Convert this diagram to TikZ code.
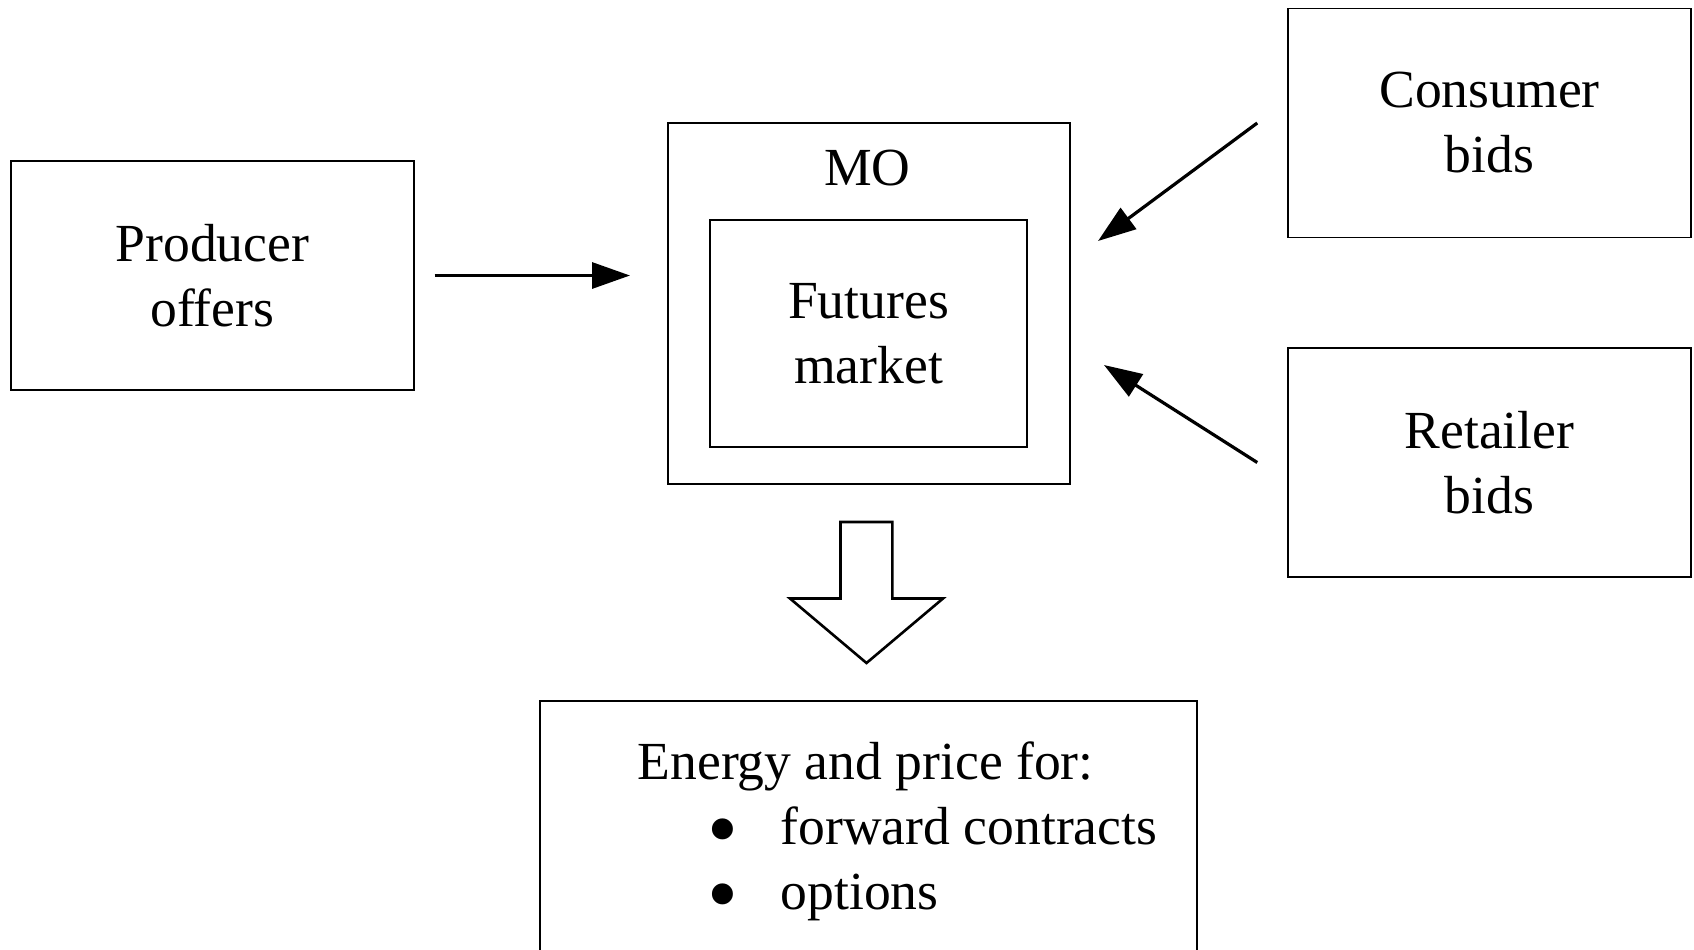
\documentclass[tikz,border=0pt]{standalone}
\usepackage{fontspec}
\setmainfont{Liberation Serif}
\usetikzlibrary{arrows.meta,positioning}

\newcommand{\bigdot}{\makebox[36.5pt][l]{\raisebox{-7pt}[0pt][0pt]{\fontsize{44}{32.5}\selectfont\textbullet}}}

\begin{document}
\begin{tikzpicture}[x=0.5pt,y=-0.5pt,>={Triangle[length=19pt,width=13pt]},line width=0.75pt,
  font=\fontsize{26.8}{32.5}\selectfont,
  box node/.style={draw,rectangle,align=center,inner sep=0pt},
  flow/.style={->,line width=1.6pt}]
  \useasboundingbox (0,0) rectangle (1694,949);
  \clip (0,0) rectangle (1694,949);

  \node[box node,minimum width=201.5pt,minimum height=114.5pt] (producer) at (212.3,275.5) {Producer\\offers};
  \node[box node,minimum width=201pt,minimum height=180.5pt] (mo) at (869,303.5) {};
  \node (motext) at (867.5,168) {MO};
  \node[box node,minimum width=158.5pt,minimum height=113.5pt] (futures) at (868.5,333.5) {Futures\\market};
  \node[box node,minimum width=201.5pt,minimum height=114.5pt] (consumer) at (1489.5,123) {Consumer\\bids};
  \node[box node,minimum width=201.5pt,minimum height=114.5pt] (retailer) at (1489.5,462.5) {Retailer\\bids};
  \node[box node,minimum width=328.5pt,minimum height=150pt,anchor=north] (result) at (868.5,700) {};
  \node[anchor=north west,inner sep=0pt,align=left] (resulttext) at (637,741.4)
    {Energy and price for:\\
     \hspace*{35pt}\bigdot forward contracts\\
     \hspace*{35pt}\bigdot options};

  \coordinate (pin) at (630,275.5);
  \coordinate (cin) at (1098,241);
  \coordinate (rin) at (1104,365);

  \draw[flow] ([xshift=10pt]producer.east) -- (pin);
  \draw[flow] ([xshift=-15pt]consumer.west) -- (cin);
  \draw[flow] ([xshift=-15pt]retailer.west) -- (rin);

  % block arrow
  \draw[line width=1.3pt,line join=miter] (840.5,522) -- (892.4,522) -- (892.4,598.5) -- (943,598.5)
    -- (866.5,663) -- (790,598.5) -- (840.5,598.5) -- cycle;
\end{tikzpicture}
\end{document}
